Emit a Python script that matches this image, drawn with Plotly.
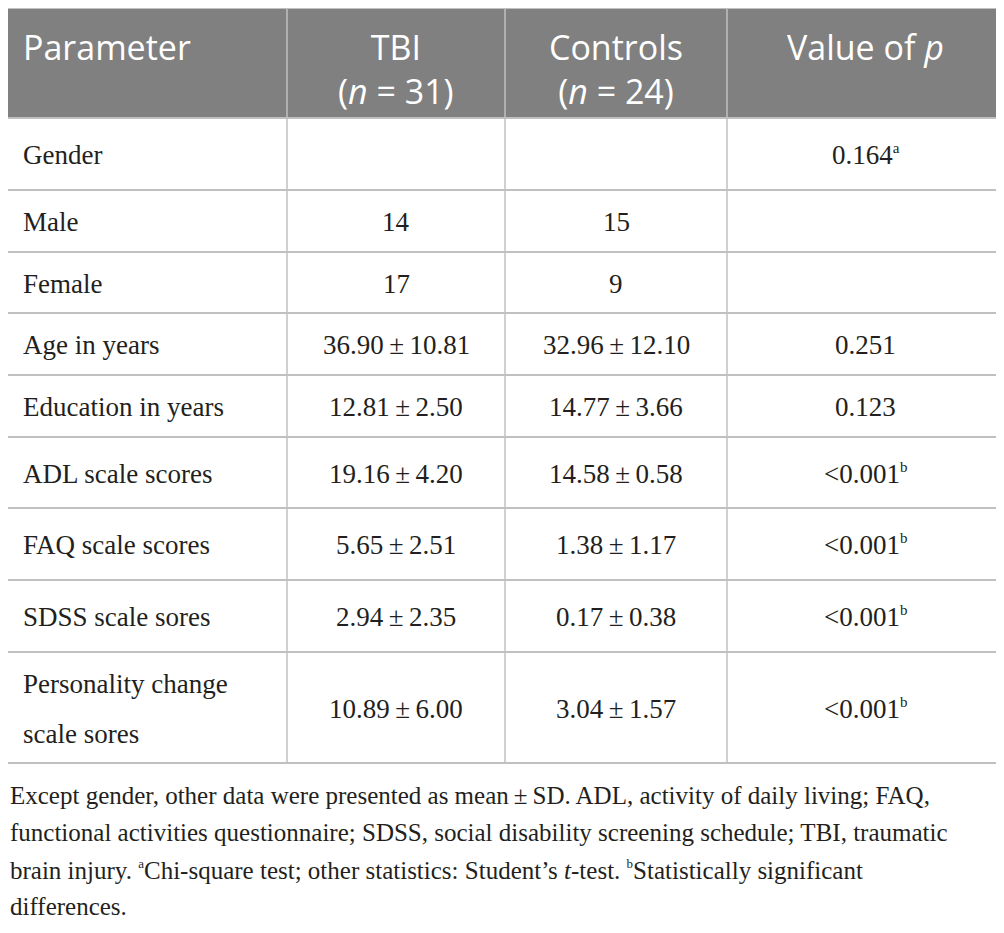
import plotly.graph_objects as go

# Table content
headers = ["Parameter", "TBI<br>(<i>n</i> = 31)", "Controls<br>(<i>n</i> = 24)", "Value of <i>p</i>"]
parameters = ["Gender", "Male", "Female", "Age in years", "Education in years",
              "ADL scale scores", "FAQ scale scores", "SDSS scale sores",
              "Personality change<br>scale sores"]
tbi = ["", "14", "17", "36.90\u2009±\u200910.81", "12.81\u2009±\u20092.50",
       "19.16\u2009±\u20094.20", "5.65\u2009±\u20092.51", "2.94\u2009±\u20092.35",
       "10.89\u2009±\u20096.00"]
controls = ["", "15", "9", "32.96\u2009±\u200912.10", "14.77\u2009±\u20093.66",
            "14.58\u2009±\u20090.58", "1.38\u2009±\u20091.17", "0.17\u2009±\u20090.38",
            "3.04\u2009±\u20091.57"]
sup = '<sup><span style="font-size:15px">{}</span></sup>'
note_sup = '<sup><span style="font-size:13px">{}</span></sup>'
p_values = ["0.164" + sup.format("a"), "", "", "0.251", "0.123",
            "<0.001" + sup.format("b"), "<0.001" + sup.format("b"),
            "<0.001" + sup.format("b"), "<0.001" + sup.format("b")]
footnote = [
    "Except gender, other data were presented as mean\u2009±\u2009SD. ADL, activity of daily living; FAQ,",
    "functional activities questionnaire; SDSS, social disability screening schedule; TBI, traumatic",
    "brain injury. " + note_sup.format("a") + "Chi-square test; other statistics: Student’s <i>t</i>-test. "
    + note_sup.format("b") + "Statistically significant",
    "differences.",
]

# Layout of the table (pixels of the picture)
W, H = 1004, 933
off = 8  # page margin around the figure
col_edges = [0, 287, 505, 727, 1004]
table_top = 8
header_h = 110
row_heights = [72, 62, 61, 62, 62, 71, 72, 72, 111]
grid_color = "#c0c0c0"
header_bg = "#808080"
text_color = "#231f20"
serif = "Liberation Serif"
sans = "Open Sans"

fig = go.Figure()

# invisible trace so that the axes are drawn
fig.add_trace(go.Scatter(x=[off, W - off], y=[off, H], mode="markers",
                         marker=dict(opacity=0), hoverinfo="skip", showlegend=False))

shapes = []
annotations = []

# header band
shapes.append(dict(type="rect", xref="x", yref="y", x0=0, x1=W,
                   y0=table_top, y1=table_top + header_h,
                   fillcolor=header_bg, line=dict(width=0), layer="below"))

# row boundaries
bounds = [table_top, table_top + header_h]
for h in row_heights:
    bounds.append(bounds[-1] + h)
table_bottom = bounds[-1]

for yb in bounds:
    shapes.append(dict(type="line", xref="x", yref="y", x0=0, x1=W, y0=yb, y1=yb,
                       line=dict(color=grid_color, width=2)))
for xb in col_edges[1:-1]:
    shapes.append(dict(type="line", xref="x", yref="y", x0=xb, x1=xb,
                       y0=table_top, y1=table_bottom,
                       line=dict(color=grid_color, width=1.5)))

# header text
for c, label in enumerate(headers):
    if c == 0:
        x, anchor = col_edges[0] + 21, "left"
    else:
        x, anchor = (col_edges[c] + col_edges[c + 1]) / 2, "center"
    annotations.append(dict(x=x, y=table_top + 14, xref="x", yref="y",
                            text=label, showarrow=False, xanchor=anchor, yanchor="top",
                            align="center",
                            font=dict(family=sans, size=34, color="white")))

# body text
columns = [parameters, tbi, controls, p_values]
for r in range(len(parameters)):
    yc = (bounds[r + 1] + bounds[r + 2]) / 2 + 1
    for c, col in enumerate(columns):
        lines = col[r].split("<br>")
        n = len(lines)
        for i, ln in enumerate(lines):
            if not ln:
                continue
            if c == 0:
                x, anchor = col_edges[0] + 21, "left"
            else:
                x, anchor = (col_edges[c] + col_edges[c + 1]) / 2, "center"
            y = yc + (i - (n - 1) / 2) * 50
            annotations.append(dict(x=x, y=y, xref="x", yref="y", text=ln,
                                    showarrow=False, xanchor=anchor, yanchor="middle",
                                    font=dict(family=serif, size=27, color=text_color)))

# footnote
for i, ln in enumerate(footnote):
    annotations.append(dict(x=off, y=table_bottom + 32 + 37.3 * i, xref="x", yref="y",
                            text=ln, showarrow=False, xanchor="left", yanchor="middle",
                            font=dict(family=serif, size=25, color=text_color)))

fig.update_layout(
    width=W - 2 * off, height=H - off,
    margin=dict(l=0, r=0, t=0, b=0),
    paper_bgcolor="white", plot_bgcolor="white",
    xaxis=dict(range=[off, W - off], visible=False, fixedrange=True),
    yaxis=dict(range=[H, off], visible=False, fixedrange=True),
    shapes=shapes,
    annotations=annotations,
    showlegend=False,
)

fig.write_html("out.html")
